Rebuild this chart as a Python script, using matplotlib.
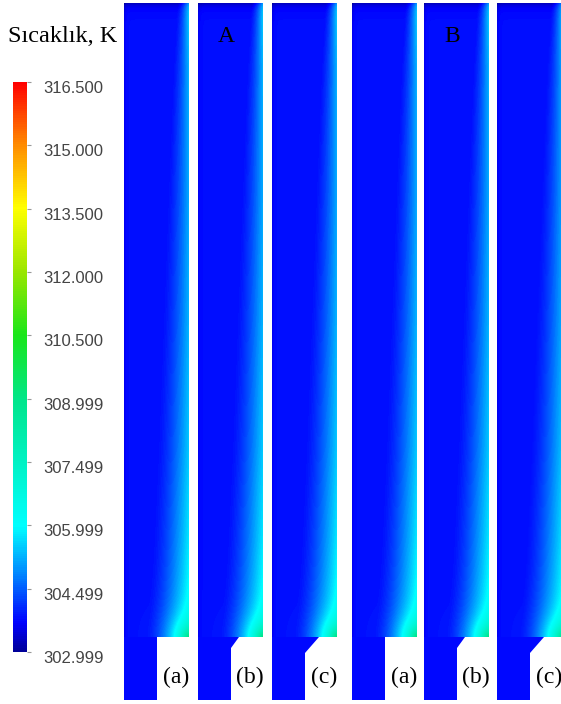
import numpy as np
import matplotlib
matplotlib.use('Agg')
import matplotlib.pyplot as plt
from matplotlib.colors import LinearSegmentedColormap, Normalize
from matplotlib.patches import Polygon
from matplotlib.cm import ScalarMappable
import matplotlib.transforms as mtransforms

# Temperature scale of the contour plots (K)
t_min = 302.999
t_max = 316.500
tick_values = [302.999, 304.499, 305.999, 307.499, 308.999,
               310.500, 312.000, 313.500, 315.000, 316.500]
tick_labels = ['302.999', '304.499', '305.999', '307.499', '308.999',
               '310.500', '312.000', '313.500', '315.000', '316.500']

groups = ['A', 'B']
cases = ['(a)', '(b)', '(c)']

# Thermal layer along the heated wall: relative height -> thickness (fraction of width)
layer_height = [0.0, 0.1, 0.3, 0.5, 0.7, 0.85, 0.95, 1.0]
layer_thickness = [0.18, 0.25, 0.34, 0.42, 0.50, 0.57, 0.62, 0.64]
# wall temperature along the same heights (K)
wall_temp = [305.6, 305.3, 305.2, 305.3, 305.5, 305.8, 306.1, 306.3]
core_temp = 303.8
corner_rise = 3.0

# Fluent-like rainbow colour map
cmap = LinearSegmentedColormap.from_list('fluent', [
    (0.00, (0.00, 0.00, 0.60)),
    (0.05, (0.00, 0.00, 1.00)),
    (0.14, (0.00, 0.55, 1.00)),
    (0.22, (0.00, 1.00, 1.00)),
    (0.44, (0.00, 0.90, 0.55)),
    (0.556, (0.10, 0.90, 0.10)),
    (0.667, (0.60, 0.90, 0.00)),
    (0.78, (1.00, 1.00, 0.00)),
    (0.89, (1.00, 0.55, 0.00)),
    (1.00, (1.00, 0.00, 0.00)),
])
norm = Normalize(vmin=t_min, vmax=t_max)

fig = plt.figure(figsize=(5.61, 7.04), dpi=100)
ax = fig.add_axes([0, 0, 1, 1])
ax.set_xlim(0, 561)
ax.set_ylim(704, 0)
ax.axis('off')

# strip layout (pixel units)
strip_left = [124, 198, 272, 352, 424, 497]
strip_width = 65
inlet_width = 33
top, step, bottom = 3, 637, 700
chamfer = {'(a)': (0, 0), '(b)': (8, 11), '(c)': (14, 16)}


def strip_field(width, height):
    xs = (np.arange(width) + 0.5) / width
    ys = np.arange(height) + 0.5
    u, y = np.meshgrid(xs, ys)
    s = np.clip(y / (step - top), 0, 1)
    delta = np.interp(s, layer_height, layer_thickness)
    tw = np.interp(s, layer_height, wall_temp)
    prof = np.clip((u - (1 - delta)) / delta, 0, 1) ** 1.5
    field = core_temp + (tw - core_temp) * prof
    # warm spot at the bottom corner of the heated wall
    d = np.hypot((1 - u) * width, (step - top) - y)
    field += corner_rise * np.exp(-d / 12.0) * (y < step - top)
    # cooler entrance band at the top
    field -= 0.6 * np.exp(-y / 4.0)
    # slightly darker line along the adiabatic side
    field -= 0.3 * np.exp(-u * width / 1.5)
    field[y >= step - top] = core_temp - 0.05
    return field


for gi, group in enumerate(groups):
    for ci, case in enumerate(cases):
        x0 = strip_left[gi * 3 + ci]
        cx, cy = chamfer[case]
        outline = [(x0, top), (x0 + strip_width, top), (x0 + strip_width, step),
                   (x0 + inlet_width + cx, step), (x0 + inlet_width, step + cy),
                   (x0 + inlet_width, bottom), (x0, bottom)]
        clip = Polygon(outline, closed=True, facecolor='none', edgecolor='none')
        ax.add_patch(clip)
        field = strip_field(strip_width, bottom - top)
        im = ax.imshow(field, cmap=cmap, norm=norm, interpolation='bilinear',
                       extent=(x0, x0 + strip_width, bottom, top), aspect='auto')
        im.set_clip_path(clip)
        ax.text(x0 + inlet_width + (strip_width - inlet_width) / 2 + 3, 677, case,
                family='Liberation Serif', fontsize=17, ha='center', va='center')
    mid = strip_left[gi * 3 + 1] + strip_width / 2
    ax.text(mid - 4, 36, group, family='Liberation Serif', fontsize=17,
            ha='center', va='center')

ax.text(8, 37, 'Sıcaklık, K', family='Liberation Serif', fontsize=17.5,
        ha='left', va='center')

# colour bar
cax = fig.add_axes([13 / 561, 1 - 652 / 704, 14 / 561, 570 / 704])
cbar = fig.colorbar(ScalarMappable(norm=norm, cmap=cmap), cax=cax)
cbar.outline.set_visible(False)
cbar.set_ticks(tick_values)
cbar.set_ticklabels(tick_labels)
cax.tick_params(axis='y', length=3, width=0.8, color='#999999', pad=9,
                labelsize=12, labelcolor='#444444')
shift = mtransforms.ScaledTranslation(0, -0.05, fig.dpi_scale_trans)
for lab in cax.get_yticklabels():
    lab.set_family('Liberation Sans')
    lab.set_transform(lab.get_transform() + shift)

fig.savefig('out.png', dpi=100)
